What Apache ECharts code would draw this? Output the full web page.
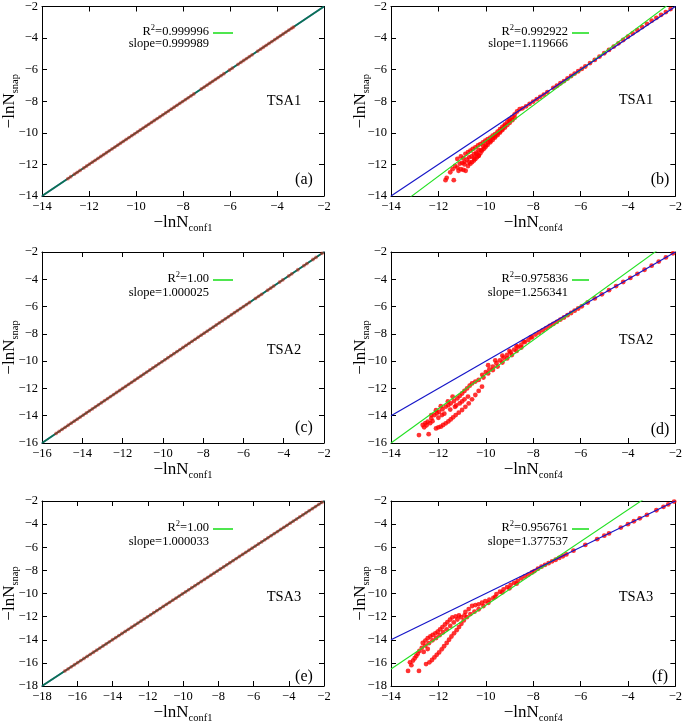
<!DOCTYPE html>
<html><head><meta charset="utf-8">
<script src="https://cdn.jsdelivr.net/npm/echarts@6/dist/echarts.min.js"></script>
<style>html,body{margin:0;padding:0;background:#fff}#c{width:685px;height:725px}</style>
</head><body><div id="c"></div>
<script>
// ---------- data ----------
const panelLabels = ['(a)','(b)','(c)','(d)','(e)','(f)'];
const tsaLabels = ['TSA1','TSA1','TSA2','TSA2','TSA3','TSA3'];
const r2Labels = ['0.999996','0.992922','1.00','0.975836','1.00','0.956761'];
const slopeLabels = ['0.999989','1.119666','1.000025','1.256341','1.000033','1.377537'];
const fitSlopes = [0.999989,1.119666,1.000025,1.256341,1.000033,1.377537];
const fitIntercepts = [0.0,0.687,0.0,1.589,0.0,2.752];
const xSubs = ['conf1','conf4','conf1','conf4','conf1','conf4'];
const xMins = [-14,-14,-16,-14,-18,-14];
const yMins = [-14,-14,-16,-16,-18,-18];
const axisMax = -2;
const tickStep = 2;

const pointsA = [[-12.90,-12.90],[-12.78,-12.78],[-12.62,-12.62],[-12.50,-12.50],[-12.38,-12.38],[-12.22,-12.22],[-12.10,-12.10],[-11.98,-11.98],[-11.86,-11.86],[-11.74,-11.74],[-11.62,-11.62],[-11.50,-11.50],[-11.38,-11.38],[-11.26,-11.26],[-11.14,-11.14],[-11.02,-11.02],[-10.90,-10.90],[-10.78,-10.78],[-10.66,-10.66],[-10.54,-10.54],[-10.42,-10.42],[-10.30,-10.30],[-10.18,-10.18],[-10.06,-10.06],[-9.94,-9.94],[-9.82,-9.82],[-9.70,-9.70],[-9.58,-9.58],[-9.46,-9.46],[-9.34,-9.34],[-9.22,-9.22],[-9.10,-9.10],[-8.98,-8.98],[-8.86,-8.86],[-8.74,-8.74],[-8.62,-8.62],[-8.50,-8.50],[-8.38,-8.38],[-8.26,-8.26],[-8.14,-8.14],[-8.02,-8.02],[-7.90,-7.90],[-7.78,-7.78],[-7.66,-7.66],[-7.54,-7.54],[-7.22,-7.22],[-7.10,-7.10],[-6.98,-6.98],[-6.86,-6.86],[-6.74,-6.74],[-6.62,-6.62],[-6.50,-6.50],[-6.38,-6.38],[-6.26,-6.26],[-6.02,-6.02],[-5.90,-5.90],[-5.66,-5.66],[-5.54,-5.54],[-5.42,-5.42],[-5.30,-5.30],[-5.18,-5.18],[-5.06,-5.06],[-4.82,-4.82],[-4.70,-4.70],[-4.58,-4.58],[-4.46,-4.46],[-4.34,-4.34],[-4.22,-4.22],[-4.10,-4.10],[-3.98,-3.98],[-3.86,-3.86],[-3.74,-3.74],[-3.62,-3.62],[-3.50,-3.50],[-3.38,-3.38],[-3.30,-3.30]];

const pointsC = [[-15.30,-15.30],[-15.15,-15.15],[-15.00,-15.00],[-14.85,-14.85],[-14.70,-14.70],[-14.55,-14.55],[-14.40,-14.40],[-14.25,-14.25],[-14.10,-14.10],[-13.95,-13.95],[-13.80,-13.80],[-13.65,-13.65],[-13.50,-13.50],[-13.35,-13.35],[-13.20,-13.20],[-13.05,-13.05],[-12.90,-12.90],[-12.75,-12.75],[-12.60,-12.60],[-12.45,-12.45],[-12.30,-12.30],[-12.15,-12.15],[-12.00,-12.00],[-11.85,-11.85],[-11.70,-11.70],[-11.55,-11.55],[-11.40,-11.40],[-11.25,-11.25],[-11.10,-11.10],[-10.95,-10.95],[-10.80,-10.80],[-10.65,-10.65],[-10.50,-10.50],[-10.35,-10.35],[-10.20,-10.20],[-10.05,-10.05],[-9.90,-9.90],[-9.75,-9.75],[-9.60,-9.60],[-9.45,-9.45],[-9.30,-9.30],[-9.15,-9.15],[-9.00,-9.00],[-8.85,-8.85],[-8.70,-8.70],[-8.55,-8.55],[-8.40,-8.40],[-8.25,-8.25],[-8.10,-8.10],[-7.95,-7.95],[-7.80,-7.80],[-7.65,-7.65],[-7.50,-7.50],[-7.35,-7.35],[-7.20,-7.20],[-7.05,-7.05],[-6.90,-6.90],[-6.75,-6.75],[-6.60,-6.60],[-6.45,-6.45],[-6.30,-6.30],[-6.15,-6.15],[-6.00,-6.00],[-5.85,-5.85],[-5.70,-5.70],[-5.40,-5.40],[-5.25,-5.25],[-5.10,-5.10],[-4.80,-4.80],[-4.65,-4.65],[-4.50,-4.50],[-4.20,-4.20],[-4.05,-4.05],[-3.75,-3.75],[-3.60,-3.60],[-3.30,-3.30],[-3.00,-3.00],[-2.85,-2.85],[-2.55,-2.55],[-2.40,-2.40],[-2.10,-2.10]];

const pointsE = [[-16.70,-16.70],[-16.52,-16.52],[-16.34,-16.34],[-16.16,-16.16],[-15.98,-15.98],[-15.80,-15.80],[-15.62,-15.62],[-15.44,-15.44],[-15.26,-15.26],[-15.08,-15.08],[-14.90,-14.90],[-14.72,-14.72],[-14.54,-14.54],[-14.36,-14.36],[-14.18,-14.18],[-14.00,-14.00],[-13.82,-13.82],[-13.64,-13.64],[-13.46,-13.46],[-13.28,-13.28],[-13.10,-13.10],[-12.92,-12.92],[-12.74,-12.74],[-12.56,-12.56],[-12.38,-12.38],[-12.20,-12.20],[-12.02,-12.02],[-11.84,-11.84],[-11.66,-11.66],[-11.48,-11.48],[-11.30,-11.30],[-11.12,-11.12],[-10.94,-10.94],[-10.76,-10.76],[-10.58,-10.58],[-10.40,-10.40],[-10.22,-10.22],[-10.04,-10.04],[-9.86,-9.86],[-9.68,-9.68],[-9.50,-9.50],[-9.32,-9.32],[-9.14,-9.14],[-8.96,-8.96],[-8.78,-8.78],[-8.60,-8.60],[-8.42,-8.42],[-8.24,-8.24],[-8.06,-8.06],[-7.88,-7.88],[-7.70,-7.70],[-7.52,-7.52],[-7.34,-7.34],[-7.16,-7.16],[-6.98,-6.98],[-6.80,-6.80],[-6.62,-6.62],[-6.44,-6.44],[-6.26,-6.26],[-6.08,-6.08],[-5.90,-5.90],[-5.72,-5.72],[-5.54,-5.54],[-5.36,-5.36],[-5.18,-5.18],[-5.00,-5.00],[-4.82,-4.82],[-4.64,-4.64],[-4.46,-4.46],[-4.28,-4.28],[-4.10,-4.10],[-3.92,-3.92],[-3.74,-3.74],[-3.56,-3.56],[-3.38,-3.38],[-3.20,-3.20],[-3.02,-3.02],[-2.84,-2.84],[-2.66,-2.66],[-2.48,-2.48],[-2.30,-2.30],[-2.12,-2.12]];

const pointsB = [[-11.70,-13.00],[-11.65,-12.85],[-11.35,-13.00],[-11.15,-12.40],[-11.05,-12.30],[-10.95,-12.35],[-10.85,-12.40],[-11.10,-11.95],[-11.00,-11.90],[-10.90,-11.85],
[-10.75,-12.10],[-10.65,-11.95],[-10.58,-11.86],[-10.50,-11.75],[-10.44,-11.65],[-10.37,-11.55],[-10.30,-11.44],[-10.23,-11.30],[-10.16,-11.13],[-10.09,-11.02],[-10.02,-10.92],[-9.92,-10.76],[-9.81,-10.60],[-9.71,-10.45],[-9.61,-10.30],[-9.50,-10.14],[-9.40,-9.98],[-9.30,-9.82],[-9.19,-9.67],[-9.09,-9.50],[-8.99,-9.36],[-8.88,-9.20],[-8.78,-9.04],
[-11.20,-11.65],[-11.05,-11.50],[-10.86,-11.33],[-10.75,-11.22],[-10.65,-11.13],[-10.55,-11.02],[-10.44,-10.92],[-10.33,-10.80],[-10.23,-10.71],[-10.12,-10.60],[-10.02,-10.50],[-9.92,-10.40],[-9.81,-10.30],[-9.71,-10.18],[-9.61,-10.08],[-9.50,-9.92],[-9.40,-9.77],[-9.30,-9.62],[-9.19,-9.46],[-9.09,-9.30],[-8.99,-9.15],[-8.88,-9.00],[-8.78,-8.83],[-8.68,-8.65],[-8.57,-8.50],
[-10.70,-11.55],[-10.50,-11.35],[-10.30,-11.10],[-10.10,-10.85],[-9.90,-10.60],[-9.70,-10.32],[-9.50,-10.05],[-9.30,-9.75],[-10.95,-11.60],[-10.40,-11.25],
[-10.80,-11.70],[-10.60,-11.50],[-10.40,-11.35],[-10.20,-11.10],[-10.00,-10.80],[-9.80,-10.50],[-9.60,-10.20],[-9.40,-9.90],[-10.90,-12.00],[-10.70,-11.85],[-10.50,-11.60],[-10.30,-11.45],[-11.30,-12.10],[-11.50,-12.50],[-11.20,-12.20],[-11.40,-12.30],[-9.20,-9.55],[-9.00,-9.25],
[-8.45,-8.45],[-8.30,-8.32],[-8.15,-8.16],[-8.00,-8.02],[-7.85,-7.87],[-7.70,-7.72],[-7.55,-7.58],[-7.40,-7.42],[-7.15,-7.15],[-7.00,-7.02],[-6.85,-6.86],[-6.70,-6.72],[-6.55,-6.56],[-6.40,-6.40],[-6.25,-6.25],[-6.10,-6.10],[-5.95,-5.95],[-5.80,-5.80],[-5.60,-5.58],[-5.40,-5.38],[-5.20,-5.17],[-5.00,-4.96],[-4.80,-4.75],[-4.60,-4.54],[-4.40,-4.33],[-4.20,-4.12],[-4.00,-3.91],[-3.80,-3.70],[-3.60,-3.50],[-3.40,-3.30],[-3.20,-3.10],[-3.00,-2.90],[-2.80,-2.72],[-2.60,-2.53],[-2.40,-2.35],[-2.20,-2.16]];

const pointsD = [[-12.82,-15.42],[-12.41,-15.35],
[-12.10,-14.93],[-12.00,-14.85],[-11.90,-14.80],[-11.80,-14.68],[-11.69,-14.56],[-11.58,-14.42],[-11.48,-14.27],[-11.38,-14.12],[-11.27,-13.95],[-11.14,-13.78],[-11.00,-13.58],[-10.86,-13.35],[-10.72,-13.10],[-10.58,-12.80],[-10.44,-12.48],[-10.30,-12.18],[-10.16,-11.87],
[-12.66,-14.68],[-12.55,-14.55],[-12.45,-14.44],[-12.30,-14.20],[-12.17,-13.95],[-12.07,-13.82],[-11.97,-13.71],[-11.83,-13.52],[-11.69,-13.34],[-11.58,-13.22],[-11.48,-13.10],[-11.34,-12.92],[-11.20,-12.73],[-11.10,-12.55],[-11.00,-12.37],[-10.90,-12.18],[-10.79,-12.00],[-10.68,-11.80],[-10.58,-11.63],[-10.44,-11.50],[-10.30,-11.38],
[-12.50,-14.70],[-12.25,-14.40],[-12.00,-14.15],[-11.75,-13.85],[-11.50,-13.55],[-11.25,-13.25],[-11.00,-12.95],[-10.75,-12.60],[-12.30,-13.95],[-12.10,-13.60],[-11.90,-13.30],[-11.60,-12.95],[-11.40,-12.60],
[-12.60,-14.85],[-12.35,-14.55],[-11.85,-13.95],[-11.30,-13.35],[-11.10,-13.10],[-10.90,-12.80],
[-10.15,-11.00],[-10.00,-10.80],[-9.85,-10.60],[-9.70,-10.40],[-9.55,-10.15],[-9.40,-9.95],[-9.25,-9.75],[-9.10,-9.55],[-8.95,-9.35],[-8.80,-9.15],[-8.65,-8.95],[-8.50,-8.80],[-8.35,-8.60],[-8.20,-8.45],[-8.05,-8.25],
[-10.10,-11.20],[-9.90,-10.90],[-9.70,-10.65],[-9.50,-10.40],[-9.30,-10.10],[-9.10,-9.80],[-8.90,-9.55],[-8.70,-9.25],[-8.50,-9.00],
[-9.90,-10.30],[-9.60,-9.95],[-9.30,-9.60],[-9.00,-9.25],[-8.70,-8.90],[-8.40,-8.55],[-8.10,-8.25],
[-7.90,-8.05],[-7.75,-7.90],[-7.60,-7.75],[-7.45,-7.58],[-7.30,-7.42],[-7.15,-7.27],[-7.00,-7.12],[-6.85,-6.95],[-6.70,-6.80],[-6.55,-6.63],[-6.40,-6.47],[-6.25,-6.30],[-6.10,-6.14],[-5.95,-5.98],
[-5.70,-5.70],[-5.40,-5.40],[-5.10,-5.10],[-4.80,-4.80],[-4.50,-4.50],[-4.20,-4.20],[-3.90,-3.90],[-3.60,-3.60],[-3.30,-3.30],[-3.00,-3.00],[-2.70,-2.70],[-2.40,-2.40],[-2.10,-2.10]];

const pointsF = [[-13.28,-16.70],[-12.82,-16.70],[-13.14,-16.20],[-13.07,-15.80],[-12.93,-15.40],[-12.80,-14.97],[-13.00,-15.60],[-12.87,-15.20],
[-12.52,-16.10],[-12.38,-15.95],[-12.27,-15.75],[-12.17,-15.53],[-12.07,-15.30],[-11.97,-15.10],[-11.86,-14.83],[-11.76,-14.56],[-11.65,-14.28],[-11.55,-14.00],[-11.45,-13.72],[-11.34,-13.44],[-11.23,-13.17],[-11.13,-12.90],[-11.03,-12.62],[-10.93,-12.33],[-10.80,-12.05],[-10.65,-11.78],[-10.48,-11.57],[-10.30,-11.36],[-10.10,-11.08],[-9.89,-10.80],
[-12.66,-14.28],[-12.55,-14.07],[-12.45,-13.86],[-12.34,-13.72],[-12.24,-13.58],[-12.13,-13.44],[-12.03,-13.30],[-11.93,-13.10],[-11.83,-12.90],[-11.72,-12.68],[-11.62,-12.47],[-11.51,-12.26],[-11.41,-12.06],[-11.27,-11.98],[-11.13,-11.90],[-10.86,-11.60],[-10.72,-11.35],[-10.58,-11.08],[-10.44,-11.00],[-10.30,-10.94],[-10.16,-10.80],[-10.02,-10.67],[-9.85,-10.53],[-9.68,-10.39],
[-12.70,-14.70],[-12.55,-14.50],[-12.40,-14.30],[-12.25,-14.05],[-12.10,-13.85],[-11.95,-13.60],[-11.80,-13.35],[-11.65,-13.10],[-11.50,-12.80],[-11.35,-12.50],[-11.20,-12.25],[-11.05,-12.05],[-10.90,-11.90],[-12.62,-15.05],[-12.45,-14.80],[-13.20,-15.95],
[-9.55,-10.05],[-9.40,-9.85],[-9.25,-9.65],[-9.10,-9.45],[-8.95,-9.25],[-8.80,-9.08],[-8.65,-8.90],[-8.50,-8.70],[-8.35,-8.52],[-8.20,-8.36],[-8.05,-8.18],[-7.95,-8.06],[-7.80,-7.85],[-7.65,-7.68],[-7.50,-7.52],[-7.35,-7.38],[-7.20,-7.22],[-7.05,-7.08],[-9.60,-10.30],[-9.30,-9.90],[-9.00,-9.55],[-8.70,-9.15],
[-6.90,-6.92],[-6.75,-6.78],[-6.60,-6.62],[-6.30,-6.30],[-5.80,-5.80],[-5.30,-5.30],[-5.00,-5.00],[-4.80,-4.80],[-4.30,-4.30],[-4.00,-4.00],[-3.75,-3.75],[-3.50,-3.50],[-3.20,-3.20],[-2.80,-2.80],[-2.50,-2.50],[-2.30,-2.30],[-2.05,-2.05]];

const panelPoints = [pointsA, pointsB, pointsC, pointsD, pointsE, pointsF];

// ---------- layout / style ----------
const F = "'Liberation Serif','DejaVu Serif',serif";
const grids = [
  {left:35, top:4, width:289, height:192},
  {left:391, top:4, width:289, height:192},
  {left:35, top:252, width:289, height:191},
  {left:391, top:252, width:289, height:191},
  {left:36, top:501, width:288, height:192},
  {left:391, top:501, width:289, height:192}
];
const annot = [ // [r2 right x, r2 y, slope y, tsa x, tsa y, label x, label y]
  [209, 32, 44, 284, 101, 304, 180],
  [568, 32, 44, 636, 100, 660, 180],
  [209, 279, 293, 284, 350, 304, 428],
  [568, 279, 293, 636, 340, 660, 430],
  [209, 528, 542, 284, 597, 304, 677],
  [568, 528, 542, 636, 597, 660, 677]
];
const BLUE = '#1515c8', GREEN = '#22e022', RED = '#ff0000';

function fmt(v){ return v < 0 ? '\u2212' + (-v) : String(v); }
function nameRich(){
  return {
    m:{fontSize:17, fontFamily:F, color:'#000', lineHeight:20, verticalAlign:'top'},
    s:{fontSize:10.5, fontFamily:F, color:'#000', lineHeight:16, verticalAlign:'bottom'}
  };
}
const xAxes = [], yAxes = [], series = [], graphics = [];
grids.forEach((g, i) => {
  const right = i % 2 === 1;
  ['bottom','top'].forEach(pos => {
    xAxes.push({
      gridIndex:i, type:'value', min:xMins[i], max:axisMax, interval:tickStep, position:pos,
      axisLine:{show:true, onZero:false, lineStyle:{color:'#000', width:1}},
      axisTick:{show:true, inside:true, length:5, lineStyle:{color:'#000'}},
      axisLabel:{show:pos==='bottom', formatter:fmt, fontFamily:F, fontSize:12.5, color:'#000', margin:4},
      splitLine:{show:false},
      name: pos==='bottom' ? '{m|\u2212lnN}{s|' + xSubs[i] + '}' : '',
      nameLocation:'middle', nameGap:18, nameMoveOverlap:false,
      nameTextStyle:{rich:nameRich()}
    });
  });
  ['left','right'].forEach(pos => {
    yAxes.push({
      gridIndex:i, type:'value', min:yMins[i], max:axisMax, interval:tickStep, position:pos,
      axisLine:{show:true, onZero:false, lineStyle:{color:'#000', width:1}},
      axisTick:{show:true, inside:true, length:5, lineStyle:{color:'#000'}},
      axisLabel:{show:pos==='left', formatter:fmt, fontFamily:F, fontSize:12.5, color:'#000', margin:4},
      splitLine:{show:false},
      name: pos==='left' ? '{m|\u2212lnN}{s|snap}' : '',
      nameLocation:'middle', nameGap: right ? 19 : 21, nameMoveOverlap:false,
      nameTextStyle:{rich:nameRich()}
    });
  });
  const xa = i*2, ya = i*2;
  const xmin = xMins[i];
  const s = fitSlopes[i], b = fitIntercepts[i];
  const diagMin = Math.max(xMins[i], yMins[i]);
  const blueLine = [[diagMin, diagMin],[axisMax, axisMax]];
  const greenLine = [[xmin, s*xmin + b],[axisMax, s*axisMax + b]];
  if (!right) {
    series.push({type:'line', xAxisIndex:xa, yAxisIndex:ya, data:blueLine, showSymbol:false, silent:true,
      lineStyle:{color:BLUE, width:1.6}, z:2});
    series.push({type:'line', xAxisIndex:xa, yAxisIndex:ya, data:greenLine, showSymbol:false, silent:true,
      lineStyle:{color:'#00b400', width:1.6, opacity:0.6}, z:2});
    series.push({type:'scatter', xAxisIndex:xa, yAxisIndex:ya, data:panelPoints[i], symbol:'circle', symbolSize:3.8,
      itemStyle:{color:'#e01a0a', opacity:0.5}, z:3, silent:true});
  } else {
    series.push({type:'scatter', xAxisIndex:xa, yAxisIndex:ya, data:panelPoints[i], symbol:'circle', symbolSize:4.8,
      itemStyle:{color:RED}, z:2, silent:true});
    series.push({type:'line', xAxisIndex:xa, yAxisIndex:ya, data:greenLine, showSymbol:false, silent:true,
      lineStyle:{color:GREEN, width:1.1}, z:3});
    series.push({type:'line', xAxisIndex:xa, yAxisIndex:ya, data:blueLine, showSymbol:false, silent:true,
      lineStyle:{color:BLUE, width:1.2}, z:4});
  }
  const a = annot[i];
  graphics.push({type:'text', x:a[0], y:a[1], z:10, style:{
    text:'{t|R}{p|2}{t|=' + r2Labels[i] + '}', align:'right', verticalAlign:'middle',
    rich:{t:{fontSize:12.5, fontFamily:F, fill:'#000', lineHeight:18, verticalAlign:'middle'},
          p:{fontSize:8.5, fontFamily:F, fill:'#000', lineHeight:9, verticalAlign:'top'}}}});
  graphics.push({type:'line', z:10, shape:{x1:a[0]+4, y1:a[1]+1, x2:a[0]+(right?21:24), y2:a[1]+1},
    style:{stroke:GREEN, lineWidth:1.6}});
  graphics.push({type:'text', x:a[0], y:a[2], z:10, style:{text:'slope=' + slopeLabels[i], align:'right', verticalAlign:'middle',
    fontSize:12.5, fontFamily:F, fill:'#000'}});
  graphics.push({type:'text', x:a[3], y:a[4], z:10, style:{text:tsaLabels[i], align:'center', verticalAlign:'middle',
    fontSize:14.5, fontFamily:F, fill:'#000'}});
  graphics.push({type:'text', x:a[5], y:a[6], z:10, style:{text:panelLabels[i], align:'center', verticalAlign:'middle',
    fontSize:16, fontFamily:F, fill:'#000'}});
});

const chart = echarts.init(document.getElementById('c'), null, {renderer:'canvas'});
chart.setOption({
  animation:false,
  backgroundColor:'#fff',
  grid:grids.map(g => Object.assign({containLabel:false}, g)),
  xAxis:xAxes, yAxis:yAxes, series:series, graphic:graphics
});
</script></body></html>
